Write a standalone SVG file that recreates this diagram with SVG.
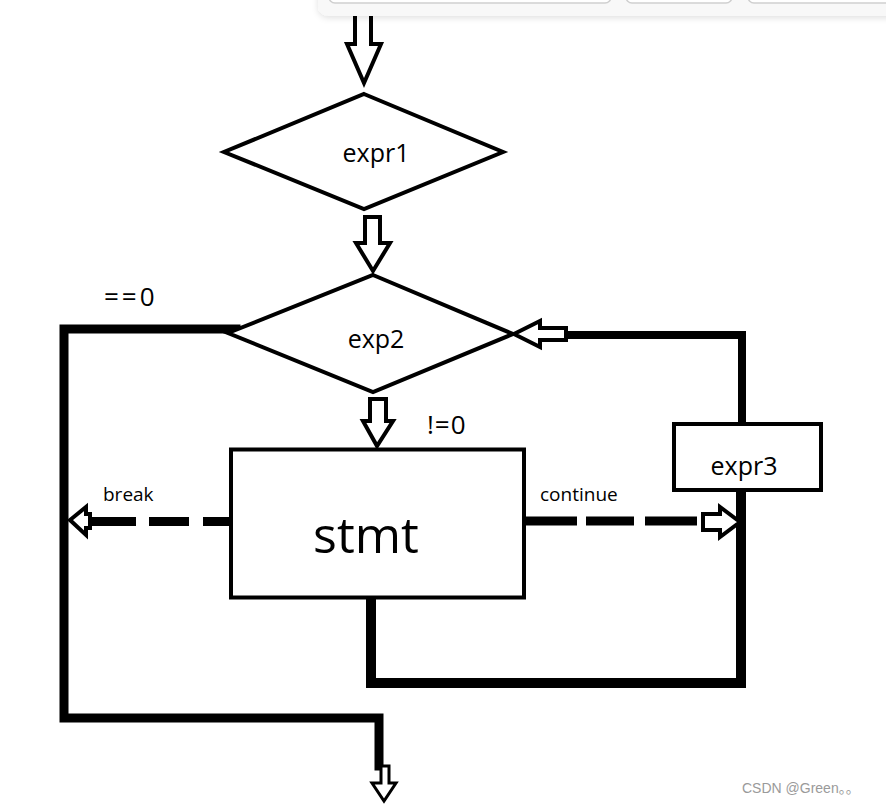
<svg xmlns="http://www.w3.org/2000/svg" width="886" height="806" viewBox="0 0 886 806">
<style>
.shape{fill:#fff;stroke:#000;stroke-width:4;stroke-linejoin:miter}
.arrow{fill:#fff;stroke:#000;stroke-width:4;stroke-linejoin:miter}
.line{fill:none;stroke:#000;stroke-linecap:square;stroke-linejoin:miter}
.dash{fill:none;stroke:#000;stroke-width:9}
.t{font-family:"Open Sans","Noto Sans","DejaVu Sans",sans-serif;fill:#000}
.wm{font-family:"Liberation Sans","Noto Sans CJK SC",Arial,sans-serif;fill:#9a9a9a;font-size:14px}
</style>
<defs>
<filter id="sh" x="-10%" y="-50%" width="120%" height="250%">
<feDropShadow dx="0" dy="2" stdDeviation="3" flood-color="#000" flood-opacity="0.12"/>
</filter>
</defs>
<rect width="886" height="806" fill="#fff"/>

<g id="connectors">
<polygon class="arrow" points="355,10 355,44 347,44 364,83 381,44 371,44 371,10"/>
<polygon class="arrow" points="365,217 380,217 380,243 390,243 373,271 356,243 365,243"/>
<polygon class="arrow" points="370,399 386,399 386,421 393,421 377,446 363,421 370,421"/>
<path class="line" d="M566,335 H742 V422" stroke-width="8"/>
<polygon class="arrow" points="566,328 540,328 540,321 514,334 540,347 540,340 566,340"/>
<path class="line" d="M371,599 V683 H741 V494" stroke-width="10"/>
<path class="line" d="M236,329 H64 V718 H379 V766" stroke-width="9"/>
<polygon class="arrow" points="381,766 389,766 389,783 396,783 384,801 372,783 381,783" style="stroke-width:3"/>
<path class="dash" d="M91,521.5 H136 M149,521.5 H189 M203,521.5 H231"/>
<polygon class="arrow" points="90,514 86,514 86,507 70,520 86,535 86,528 90,528" style="stroke-width:4"/>
<path class="dash" d="M526,521 H577 M586,521 H634 M645,521 H697"/>
<polygon class="arrow" points="703,514 720,514 720,507 740,522 720,537 720,530 703,530" style="stroke-width:4"/>
</g>

<g id="expr1">
<polygon class="shape" points="364,94 503,152 364,209 224,152"/>
<text class="t" x="376" y="162" font-size="25" text-anchor="middle">expr1</text>
</g>

<g id="exp2">
<polygon class="shape" points="373,275 513,334 373,392 228,333"/>
<text class="t" x="376" y="348" font-size="25" text-anchor="middle">exp2</text>
</g>

<g id="stmt">
<rect class="shape" x="231" y="449.5" width="293" height="148"/>
<text class="t" x="366" y="553" font-size="50" text-anchor="middle">stmt</text>
</g>

<g id="expr3">
<rect class="shape" x="674" y="424" width="147" height="66"/>
<text class="t" x="744" y="475" font-size="25" text-anchor="middle">expr3</text>
</g>

<g id="labels">
<text class="t" x="104" y="306" font-size="26" letter-spacing="3">==0</text>
<text class="t" x="427" y="434" font-size="26" letter-spacing="1">!=0</text>
<text class="t" x="103" y="501" font-size="19">break</text>
<text class="t" x="540" y="501" font-size="19">continue</text>
</g>

<g id="toolbar">
<rect x="318" y="-20" width="600" height="36" rx="10" fill="#f8f8f8" filter="url(#sh)"/>
<rect x="329" y="-12" width="282" height="15" rx="6" fill="#fff" stroke="#cfcfcf" stroke-width="1.5"/>
<rect x="626" y="-12" width="106" height="15" rx="6" fill="#fff" stroke="#cfcfcf" stroke-width="1.5"/>
<rect x="748" y="-12" width="160" height="15" rx="6" fill="#fff" stroke="#cfcfcf" stroke-width="1.5"/>
</g>

<text class="wm" x="742" y="793">CSDN @Green。。</text>
</svg>
